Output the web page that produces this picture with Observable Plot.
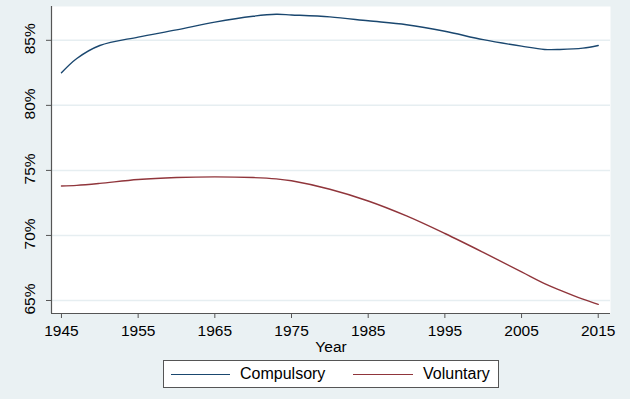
<!DOCTYPE html>
<html><head><meta charset="utf-8">
<script src="https://cdn.jsdelivr.net/npm/d3@7"></script>
<script src="https://cdn.jsdelivr.net/npm/@observablehq/plot@0.6"></script>
<style>
html,body{margin:0;padding:0;background:#eaf1f3;width:630px;height:399px;overflow:hidden;font-family:"Liberation Sans",Arial,sans-serif;}
#legend{position:absolute;left:163px;top:360px;width:336px;height:28px;background:#fff;border:1px solid #555;box-sizing:border-box;font-size:16px;color:#000;}
.sw{position:absolute;top:13px;height:0;border-top:1.5px solid;}
.lt{position:absolute;top:4px;}
</style></head><body>
<div id="chart"></div>
<div id="legend">
  <span class="sw" style="left:7px;width:59px;border-color:#1a476f"></span><span class="lt" style="left:76px">Compulsory</span>
  <span class="sw" style="left:189px;width:60px;border-color:#90353b"></span><span class="lt" style="left:259px">Voluntary</span>
</div>
<script>
const years = [1945,1947,1950,1955,1960,1965,1970,1973,1975,1980,1985,1990,1995,2000,2005,2008,2010,2013,2015];
const compulsory = [82.5,83.6,84.6,85.25,85.8,86.4,86.85,87.0,86.95,86.8,86.5,86.2,85.7,85.05,84.55,84.3,84.3,84.4,84.6];
const voluntary  = [73.8,73.85,74.0,74.3,74.45,74.5,74.45,74.35,74.2,73.55,72.65,71.5,70.15,68.7,67.2,66.3,65.8,65.1,64.7];
const yTicks = [65,70,75,80,85];
const xTicks = [1945,1955,1965,1975,1985,1995,2005,2015];
const series = [
  {name:"Compulsory", values:compulsory, color:"#1a476f"},
  {name:"Voluntary", values:voluntary, color:"#90353b"}
];
const data = series.flatMap(s => years.map((y,i)=>({year:y, value:s.values[i], name:s.name})));
const chart = Plot.plot({
  width:630, height:356,
  marginLeft:51, marginRight:20, marginTop:6, marginBottom:43,
  style:{background:"transparent", fontFamily:"Liberation Sans, Arial, sans-serif", fontSize:"16px", color:"#000"},
  x:{domain:[1943.7,2016.6], ticks:xTicks, tickFormat:d=>String(d)},
  y:{domain:[64.0,87.6], ticks:yTicks, tickFormat:d=>d+"%"},
  color:{domain:series.map(s=>s.name), range:series.map(s=>s.color)},
  marks:[
    Plot.frame({fill:"white", stroke:null}),
    Plot.gridY(yTicks,{stroke:"#e6eef1", strokeOpacity:1, strokeWidth:1.5}),
    Plot.axisX({ticks:xTicks, tickSize:5, tickPadding:6, stroke:"#555", fontSize:15.5, label:"Year", labelAnchor:"center", labelArrow:"none", labelOffset:38, tickFormat:d=>String(d)}),
    Plot.axisY({ticks:yTicks, tickSize:5, stroke:"#555", text:null, label:null}),
    Plot.text(yTicks,{y:d=>d, text:d=>d+"%", frameAnchor:"left", rotate:-90, textAnchor:"middle", lineAnchor:"middle", dx:-21.5, dy:-1.5, fontSize:15.5, fill:"#000"}),
    Plot.ruleX([1943.7],{stroke:"#555", strokeWidth:1.2}),
    Plot.ruleY([64.0],{stroke:"#555", strokeWidth:1.2}),
    Plot.line(data,{x:"year", y:"value", z:"name", stroke:"name", curve:"catmull-rom", strokeWidth:1.4})
  ]
});
document.getElementById("chart").appendChild(chart);
</script></body></html>
